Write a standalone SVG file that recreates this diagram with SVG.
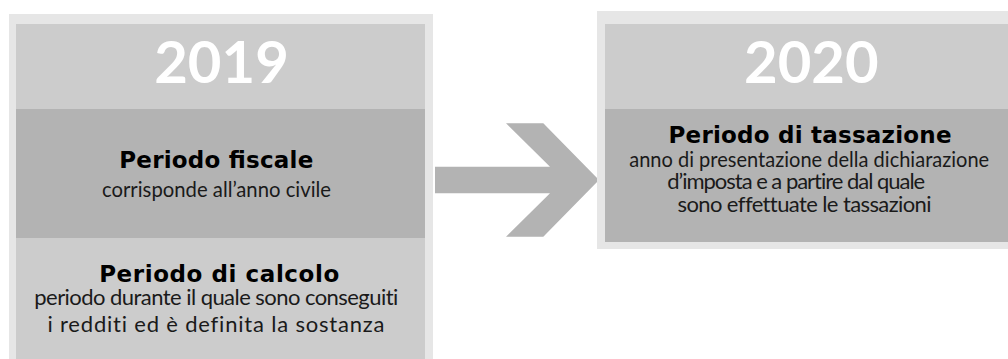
<svg xmlns="http://www.w3.org/2000/svg" width="1008" height="359" viewBox="0 0 1008 359">
<style>
.outer{fill:#e6e6e6}
.light{fill:#cccccc}
.dark{fill:#b3b3b3}
.year{font-family:Lato,"Open Sans",sans-serif;font-weight:bold;font-size:58px;fill:#ffffff;text-anchor:middle}
.title{font-family:"DejaVu Sans",sans-serif;font-weight:bold;font-size:23px;fill:#000000;text-anchor:middle}
.sub{font-family:Lato,"Open Sans",sans-serif;font-size:22px;fill:#1a1a1a;text-anchor:middle;font-variant-ligatures:none}
</style>
<rect width="1008" height="359" fill="#ffffff"/>
<g id="panel2019">
<rect class="outer" x="9" y="14" width="424" height="345"/>
<rect class="light" x="16" y="24" width="409" height="85"/>
<text class="year" x="221.5" y="83">2019</text>
<g id="periodo-fiscale">
<rect class="dark" x="16" y="109" width="409" height="129"/>
<text class="title" x="216.3" y="168" textLength="194">Periodo fiscale</text>
<text class="sub" x="216.5" y="197" textLength="229" lengthAdjust="spacingAndGlyphs">corrisponde all’anno civile</text>
</g>
<g id="periodo-calcolo">
<rect class="light" x="16" y="238" width="409" height="121"/>
<text class="title" x="219.2" y="281.5" textLength="240">Periodo di calcolo</text>
<text class="sub" x="216.3" y="305" textLength="364">periodo durante il quale sono conseguiti</text>
<text class="sub" x="216" y="331.5" textLength="337">i redditi ed è definita la sostanza</text>
</g>
</g>
<g id="connectors">
<polygon class="dark" points="435,166.7 550,166.7 506,123.3 543.3,123.3 599,180 543.3,236.7 506,236.7 550,193.3 435,193.3"/>
</g>
<g id="panel2020">
<rect class="outer" x="597" y="11" width="420" height="238"/>
<rect class="light" x="605" y="24" width="412" height="85"/>
<text class="year" x="811.3" y="83">2020</text>
<g id="periodo-tassazione">
<rect class="dark" x="605" y="109" width="412" height="133"/>
<text class="title" x="810" y="143.3" textLength="283">Periodo di tassazione</text>
<text class="sub" x="809.2" y="166.7" textLength="360" lengthAdjust="spacingAndGlyphs">anno di presentazione della dichiarazione</text>
<text class="sub" x="796.2" y="189.3" textLength="258">d’imposta e a partire dal quale</text>
<text class="sub" x="804.5" y="212.3" textLength="254">sono effettuate le tassazioni</text>
</g>
</g>
</svg>
